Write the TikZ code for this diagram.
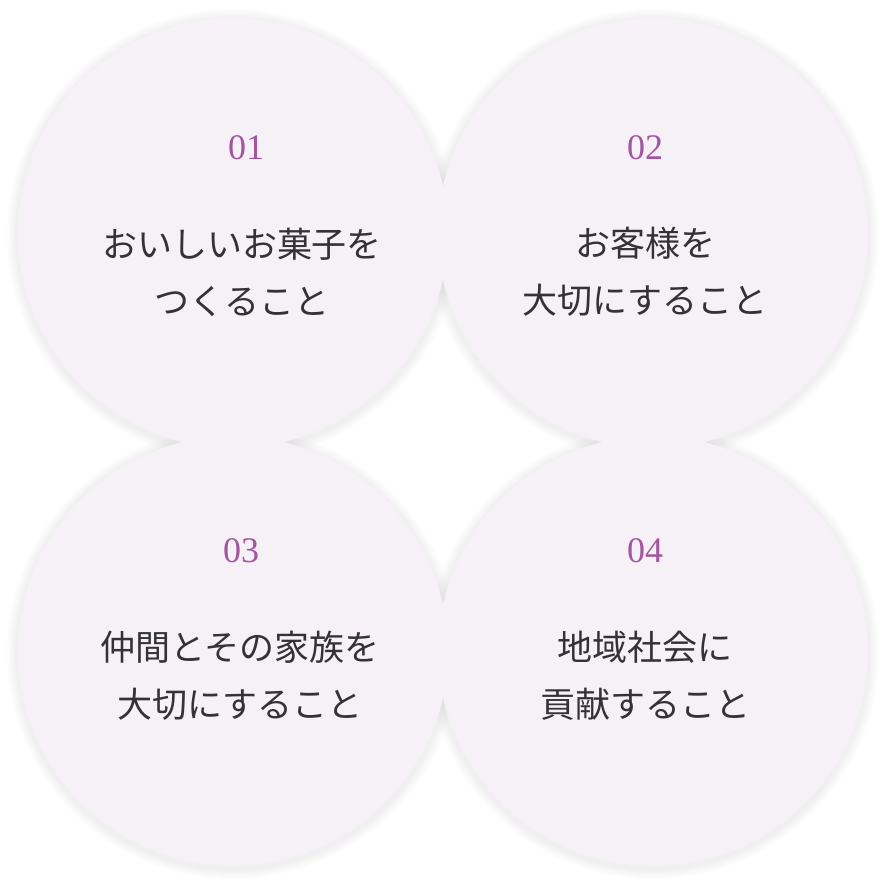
\documentclass[tikz,border=0pt]{standalone}
\usepackage{fontspec}
\setmainfont{Liberation Serif}
\newfontfamily\jp{Noto Sans CJK JP}
\definecolor{circfill}{HTML}{F5F1F6}
\definecolor{numcol}{HTML}{A3559F}
\definecolor{txtcol}{HTML}{333333}
\tikzset{
  circ/.style={fill=circfill},
  shad/.style={fill=black,opacity=0.012},
  num/.style={text=numcol,font=\fontsize{36}{36}\selectfont},
  lbl/.style={text=txtcol,font=\jp\fontsize{35}{57}\selectfont,align=center}
}
\begin{document}
\begin{tikzpicture}[x=1pt,y=-1pt]
\useasboundingbox (0,0) rectangle (884,884);
\fill[white] (0,0) rectangle (884,884);
\foreach \cx/\cy in {233/233,653/233,233/651,653/651}{
  \foreach \r in {226,224,222,220,218}{\fill[shad] (\cx,\cy+2) circle (\r);}
}
\foreach \cx/\cy/\n in {233/233/c1,653/233/c2,233/651/c3,653/651/c4}{
  \node[circ,circle,minimum size=430pt,inner sep=0pt] (\n) at (\cx,\cy) {};
}
\node[num] (n1) at (246,148) {01};
\node[num] (n2) at (645,148) {02};
\node[num] (n3) at (241,551) {03};
\node[num] (n4) at (645,551) {04};
\node[lbl] (t1) at (242,272) {おいしいお菓子を\\つくること};
\node[lbl] (t2) at (645,272) {お客様を\\大切にすること};
\node[lbl] (t3) at (240,676) {仲間とその家族を\\大切にすること};
\node[lbl] (t4) at (645,676) {地域社会に\\貢献すること};
\end{tikzpicture}
\end{document}
